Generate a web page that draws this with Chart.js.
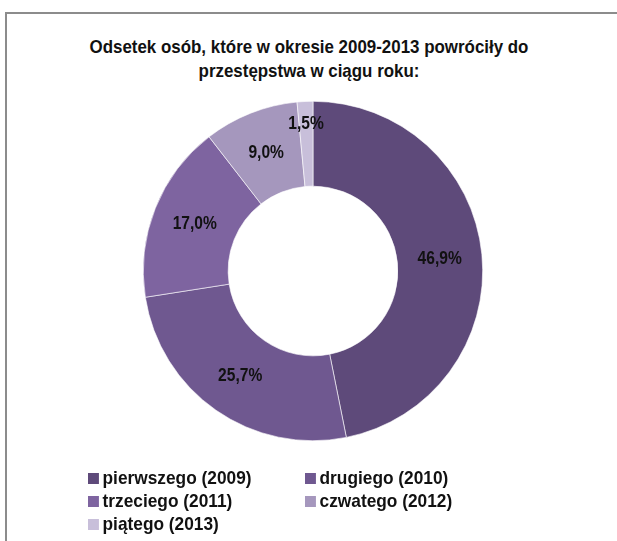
<!DOCTYPE html>
<html>
<head>
<meta charset="utf-8">
<script src="https://cdn.jsdelivr.net/npm/chart.js@4"></script>
<style>
  html, body { margin: 0; padding: 0; background: #fff; }
  body { width: 617px; height: 541px; position: relative; overflow: hidden;
         font-family: "Liberation Sans Narrow", "Arial Narrow", "Liberation Sans", Arial, sans-serif; }
  #frame { position: absolute; left: 5px; top: 12px; width: 620px; height: 540px;
           border-top: 2px solid #8c8c8c; border-left: 2px solid #8c8c8c; }
  #title { position: absolute; left: 0; top: 35px; width: 618px; text-align: center;
           font-weight: bold; font-size: 19px; line-height: 24px; color: #111;
           transform: scaleX(0.89); transform-origin: 309px 0; }
  #chartBox { position: absolute; left: 0; top: 0; width: 617px; height: 541px; }
  #legend { position: absolute; left: 88px; top: 466px; width: 480px; }
  .item { position: absolute; font-weight: bold; font-size: 19px; line-height: 23px; color: #111; white-space: nowrap;
          transform: scaleX(0.91); transform-origin: 0 0; }
  .item span { display: inline-block; width: 12px; height: 11px; margin-right: 4px; vertical-align: 0px; }
</style>
</head>
<body>
<div id="frame"></div>
<div id="title">Odsetek osób, które w okresie 2009-2013 powróciły do<br>przestępstwa w ciągu roku:</div>
<div id="chartBox"><canvas id="donut" width="617" height="541"></canvas></div>
<div id="legend"></div>
<script>
var categories = ["pierwszego (2009)", "drugiego (2010)", "trzeciego (2011)", "czwatego (2012)", "piątego (2013)"];
var shares = [46.9, 25.7, 17.0, 9.0, 1.5];
var labelTexts = ["46,9%", "25,7%", "17,0%", "9,0%", "1,5%"];
var sliceColors = ["#5e4a7a", "#6f5890", "#7e64a0", "#a597bd", "#c8bfda"];
var labelPush = [0, 0, 0, 0, 20];

var sliceLabels = {
  id: 'sliceLabels',
  afterDatasetsDraw: function (chart) {
    var ctx = chart.ctx;
    var meta = chart.getDatasetMeta(0);
    meta.data.forEach(function (arc, i) {
      var p = arc.getProps(['x', 'y', 'startAngle', 'endAngle', 'innerRadius', 'outerRadius'], true);
      var mid = (p.startAngle + p.endAngle) / 2;
      var r = (p.innerRadius + p.outerRadius) / 2 + labelPush[i];
      ctx.save();
      ctx.translate(p.x + Math.cos(mid) * r, p.y + Math.sin(mid) * r);
      ctx.scale(0.82, 1);
      ctx.font = 'bold 19px "Liberation Sans Narrow", "Arial Narrow", "Liberation Sans", Arial, sans-serif';
      ctx.fillStyle = '#111';
      ctx.textAlign = 'center';
      ctx.textBaseline = 'middle';
      ctx.fillText(labelTexts[i], 0, 0);
      ctx.restore();
    });
  }
};

var donutChart = new Chart(document.getElementById("donut").getContext("2d"), {
  type: 'doughnut',
  data: {
    labels: categories,
    datasets: [{
      data: shares,
      backgroundColor: sliceColors,
      borderColor: '#ffffff',
      borderWidth: 0.6
    }]
  },
  options: {
    responsive: false,
    animation: false,
    cutout: '50%',
    layout: { padding: { top: 101, bottom: 100, left: 143, right: 134 } },
    plugins: {
      legend: { display: false },
      tooltip: { enabled: false }
    }
  },
  plugins: [sliceLabels]
});

// two-column legend, same order as the slices
var legendBox = document.getElementById("legend");
donutChart.options.plugins.legend.labels.generateLabels(donutChart).forEach(function (item, i) {
  var div = document.createElement("div");
  div.className = "item";
  div.style.left = (i % 2 === 0 ? 0 : 217) + "px";
  div.style.top = (Math.floor(i / 2) * 23) + "px";
  div.innerHTML = '<span style="background:' + item.fillStyle + '"></span>' + item.text;
  legendBox.appendChild(div);
});
</script>
</body>
</html>
